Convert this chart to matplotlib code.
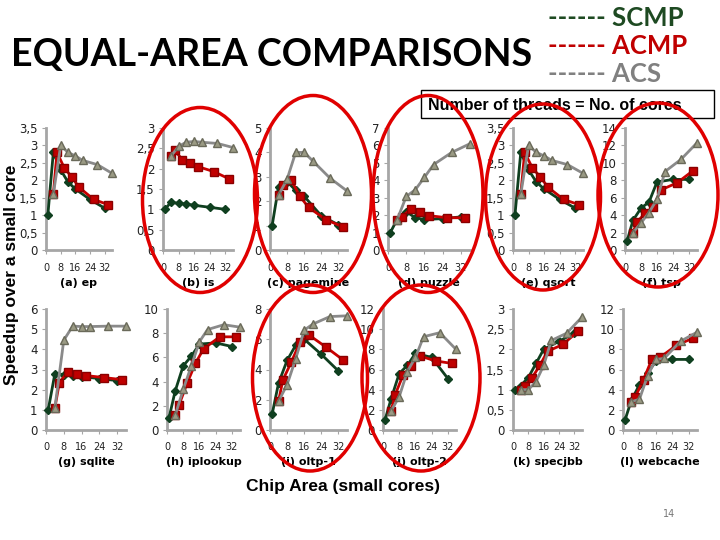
import matplotlib
matplotlib.use('Agg')
import matplotlib.pyplot as plt
from matplotlib.patches import Ellipse, Rectangle

# chip area (small cores) for each configuration
scmp_x = [1, 4, 8, 12, 16, 24, 32]
acmp_x = [4, 6, 10, 14, 18, 26, 34]
acs_x = [4, 8, 12, 16, 20, 28, 36]

names = ['(a) ep', '(b) is', '(c) pagemine', '(d) puzzle', '(e) qsort', '(f) tsp',
         '(g) sqlite', '(h) iplookup', '(i) oltp-1', '(j) oltp-2', '(k) specjbb', '(l) webcache']

scmp = [
    [1.0, 2.8, 2.3, 1.95, 1.75, 1.45, 1.2],
    [1.0, 1.17, 1.15, 1.13, 1.1, 1.05, 1.0],
    [1.0, 2.6, 2.8, 2.45, 2.2, 1.4, 1.03],
    [1.0, 1.75, 2.2, 1.85, 1.75, 1.8, 1.9],
    [1.0, 2.8, 2.3, 1.95, 1.75, 1.45, 1.2],
    [1.0, 3.4, 4.8, 5.5, 7.8, 8.1, 8.1],
    [1.0, 2.8, 2.75, 2.7, 2.65, 2.55, 2.45],
    [1.0, 3.2, 5.3, 6.1, 7.1, 7.2, 6.9],
    [1.05, 3.1, 4.6, 5.6, 6.0, 5.0, 3.9],
    [1.0, 3.1, 5.6, 6.4, 7.6, 7.2, 5.1],
    [1.0, 1.1, 1.3, 1.65, 2.0, 2.2, 2.4],
    [1.0, 2.9, 4.5, 5.7, 6.8, 7.0, 7.0],
]
acmp = [
    [1.6, 2.8, 2.35, 2.1, 1.8, 1.45, 1.3],
    [2.3, 2.45, 2.22, 2.15, 2.05, 1.93, 1.75],
    [2.25, 2.65, 2.85, 2.2, 1.75, 1.25, 0.95],
    [1.73, 1.9, 2.35, 2.2, 1.97, 1.85, 1.85],
    [1.6, 2.8, 2.35, 2.1, 1.8, 1.45, 1.3],
    [2.0, 3.2, 4.2, 4.9, 6.9, 7.7, 9.1],
    [1.1, 2.35, 2.9, 2.8, 2.7, 2.6, 2.5],
    [1.2, 2.1, 3.9, 5.5, 6.7, 7.7, 7.7],
    [1.9, 3.3, 4.5, 5.8, 6.3, 5.5, 4.65],
    [1.9, 3.5, 5.5, 6.3, 7.35, 6.85, 6.6],
    [1.0, 1.1, 1.3, 1.6, 1.95, 2.12, 2.45],
    [2.8, 3.3, 5.0, 7.0, 7.2, 8.4, 9.1],
]
acs = [
    [1.6, 3.0, 2.8, 2.7, 2.57, 2.45, 2.2],
    [2.3, 2.55, 2.65, 2.67, 2.65, 2.62, 2.52],
    [2.25, 2.9, 4.0, 4.0, 3.65, 2.95, 2.42],
    [1.73, 3.07, 3.46, 4.17, 4.9, 5.6, 6.1],
    [1.6, 3.0, 2.8, 2.7, 2.57, 2.45, 2.2],
    [2.0, 3.1, 4.3, 5.8, 9.0, 10.4, 12.3],
    [1.1, 4.45, 5.15, 5.13, 5.13, 5.15, 5.15],
    [1.2, 3.35, 5.3, 7.3, 8.3, 8.7, 8.5],
    [1.9, 3.0, 4.7, 6.6, 7.0, 7.5, 7.55],
    [1.9, 3.3, 5.8, 7.2, 9.25, 9.65, 8.0],
    [1.0, 1.0, 1.2, 1.6, 2.22, 2.4, 2.8],
    [2.8, 3.05, 5.4, 7.0, 7.1, 8.8, 9.7],
]
ymax = [3.5, 3, 5, 7, 3.5, 14, 6, 10, 8, 12, 3, 12]
ystep = [0.5, 0.5, 1, 1, 0.5, 2, 1, 2, 2, 2, 0.5, 2]
xticks = [0, 8, 16, 24, 32]

# layout in pixels (720x540 canvas)
ax_left = [46, 163, 270, 388, 513, 625, 46, 167, 270, 383, 513, 623]
ax_right = [112, 233, 347, 470, 583, 697, 126, 240, 347, 456, 582, 697]
row_top = [128, 309]
row_bot = [250, 430]

W, H = 720, 540
fig = plt.figure(figsize=(7.2, 5.4), dpi=100)

c_scmp = '#0f3f1f'
c_acmp = '#c80000'
c_acs = '#8a8a8a'

for i in range(12):
    r = i // 6
    l, rr = ax_left[i], ax_right[i]
    t, b = row_top[r], row_bot[r]
    ax = fig.add_axes([l / W, 1 - b / H, (rr - l) / W, (b - t) / H])
    ax.plot(scmp_x, scmp[i], color=c_scmp, lw=2.0, marker='D', ms=4.5,
            mfc=c_scmp, mec=c_scmp, clip_on=False, zorder=3)
    ax.plot(acmp_x, acmp[i], color=c_acmp, lw=2.0, marker='s', ms=5.5,
            mfc='#c00000', mec='#8a0000', clip_on=False, zorder=4)
    ax.plot(acs_x, acs[i], color=c_acs, lw=2.0, marker='^', ms=6,
            mfc='#9a9a84', mec='#6a6a5a', clip_on=False, zorder=5)
    ax.set_xlim(0, 36)
    ax.set_ylim(0, ymax[i])
    n = int(round(ymax[i] / ystep[i]))
    yt = [k * ystep[i] for k in range(n + 1)]
    ax.set_yticks(yt)
    ax.set_yticklabels([('%g' % v).replace('.', ',') for v in yt])
    ax.set_xticks(xticks)
    ax.set_xticklabels([str(v) for v in xticks])
    for s in ['top', 'right']:
        ax.spines[s].set_visible(False)
    for s in ['left', 'bottom']:
        ax.spines[s].set_color('#a6a6a6')
        ax.spines[s].set_linewidth(2)
    ax.tick_params(axis='y', labelsize=8.5, length=3, color='#a6a6a6', pad=3, labelcolor='#222222')
    ax.tick_params(axis='x', labelsize=7, length=3, color='#a6a6a6', pad=6, labelcolor='#222222')
    ax.patch.set_alpha(0)
    lab_y = [283, 462][r]
    fig.text((l + rr) / 2 / W, 1 - lab_y / H, names[i], ha='center', va='center',
             fontsize=8, fontweight='bold')

# titles and legend-like text
fig.text(11 / W, 1 - 55 / H, 'EQUAL-AREA COMPARISONS', fontsize=27, fontweight='bold',
         family='Lato', va='center', ha='left')
fig.text(548 / W, 1 - 18 / H, '------ SCMP', fontsize=18.5, fontweight='bold', family='Lato',
         color='#1e4a22', va='center')
fig.text(548 / W, 1 - 46 / H, '------ ACMP', fontsize=18.5, fontweight='bold', family='Lato',
         color='#c00000', va='center')
fig.text(548 / W, 1 - 74 / H, '------ ACS', fontsize=18.5, fontweight='bold', family='Lato',
         color='#808080', va='center')

fig.add_artist(Rectangle((421 / W, 1 - 118 / H), (714 - 421) / W, 28 / H,
                         transform=fig.transFigure, fill=False, ec='black', lw=1))
fig.text(428 / W, 1 - 105 / H, 'Number of threads = No. of cores', fontsize=11.5,
         fontweight='bold', family='Liberation Sans', va='center', ha='left')

fig.text(12 / W, 1 - 275 / H, 'Speedup over a small core', rotation=90, fontsize=12.5,
         fontweight='bold', family='Liberation Sans', va='center', ha='center')
fig.text(343 / W, 1 - 486 / H, 'Chip Area (small cores)', fontsize=12.5,
         fontweight='bold', family='Liberation Sans', va='center', ha='center')
fig.text(669 / W, 1 - 514 / H, '14', fontsize=7, color='#777777', va='center', ha='center')

# red ellipses highlighting workloads
ell_cx = [200, 313, 428, 543, 658, 310, 421]
ell_cy = [200, 194, 194, 197, 195, 378, 378]
ell_w = [115, 117, 110, 115, 120, 115, 118]
ell_h = [185, 197, 197, 186, 184, 186, 186]
for cx, cy, w, h in zip(ell_cx, ell_cy, ell_w, ell_h):
    fig.add_artist(Ellipse((cx / W, 1 - cy / H), w / W, h / H, transform=fig.transFigure,
                           fill=False, ec='#e00000', lw=2.5, zorder=10))

fig.savefig('out.png', dpi=100)
